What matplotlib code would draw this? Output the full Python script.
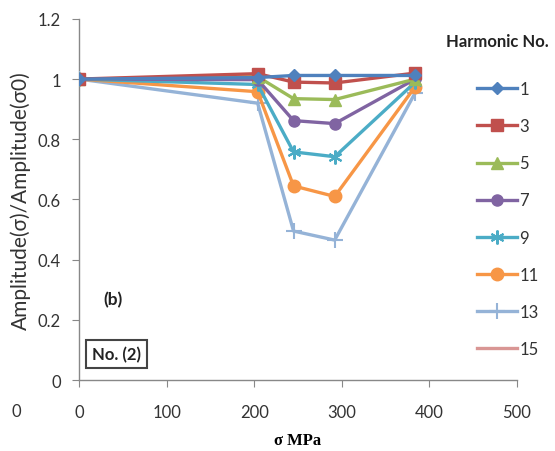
import matplotlib
matplotlib.use("Agg")
import matplotlib.pyplot as plt

stress = [0, 204, 245, 292, 384]
harmonics = ["1", "3", "5", "7", "9", "11", "13", "15"]
h1 = [1.0, 1.005, 1.012, 1.012, 1.012]
h3 = [1.0, 1.018, 0.99, 0.987, 1.02]
h5 = [1.0, 1.008, 0.935, 0.932, 1.0]
h7 = [1.0, 0.998, 0.862, 0.852, 1.0]
h9 = [1.0, 0.982, 0.758, 0.742, 0.99]
h11 = [1.0, 0.958, 0.645, 0.61, 0.975]
h13 = [1.0, 0.92, 0.495, 0.465, 0.955]
h15 = [1.0]
series = [h1, h3, h5, h7, h9, h11, h13, h15]

colors = ["#4F81BD", "#C0504D", "#9BBB59", "#8064A2", "#4BACC6", "#F79646", "#95B3D7", "#D99694"]
markers = ["D", "s", "^", "o", (6, 2, 0), "o", "+", None]
msizes = [6, 8, 8, 8, 10, 9, 12, 0]

plt.rcParams['font.family'] = ['Lato', 'DejaVu Sans']

fig = plt.figure(figsize=(5.55, 4.52), dpi=100)
ax = fig.add_axes([0.1423, 0.157, 0.789, 0.799])

order = [7, 6, 5, 4, 3, 2, 1, 0]
handles = [None] * len(series)
for i in order:
    ys = series[i]
    xs = stress[:len(ys)]
    ln, = ax.plot(xs, ys, color=colors[i], lw=2.4, marker=markers[i], ms=msizes[i],
                  mew=1.5 if markers[i] in ["+", (6, 2, 0)] else 1, label=harmonics[i],
                  zorder=3 + (7 - i) * 0.1)
    handles[i] = ln

ax.set_xlim(0, 500)
ax.set_ylim(0, 1.2)
ax.set_xticks([0, 100, 200, 300, 400, 500])
ax.set_yticks([0, 0.2, 0.4, 0.6, 0.8, 1.0, 1.2])
ax.set_yticklabels(["0", "0.2", "0.4", "0.6", "0.8", "1", "1.2"])
for s in ["top", "right"]:
    ax.spines[s].set_visible(False)
for s in ["left", "bottom"]:
    ax.spines[s].set_color("#888888")
    ax.spines[s].set_linewidth(1)
ax.tick_params(axis="x", direction="out", length=5, color="#888888", pad=12, labelsize=12, labelcolor="#333333")
ax.tick_params(axis="y", direction="out", length=5, color="#888888", pad=8, labelsize=12, labelcolor="#333333")

ax.set_xlabel("σ MPa", fontsize=12, fontweight="bold", family=["Liberation Serif", "DejaVu Serif"], labelpad=9)
ax.set_ylabel("Amplitude(σ)/Amplitude(σ0)", fontsize=15, color="#333333", labelpad=5)

ax.text(39, 0.27, "(b)", fontsize=12.5, fontweight="bold", ha="center", va="center", color="#222222")
ax.text(43, 0.085, "No. (2)", fontsize=12, fontweight="bold", ha="center", va="center", color="#222222",
        bbox=dict(boxstyle="square,pad=0.35", fc="white", ec="#444444", lw=1.5))
fig.text(12 / 555, 1 - 412 / 452, "0", fontsize=12, color="#333333", ha="left", va="center")

fig.text(497 / 555, 1 - 42 / 452, "Harmonic No.", fontsize=12, fontweight="bold", ha="center", va="center",
         color="#222222")
leg = ax.legend(handles=handles, labels=harmonics, frameon=False,
                loc="upper left", bbox_to_anchor=(477 / 555, 1 - 82 / 452), bbox_transform=fig.transFigure,
                fontsize=12, handlelength=2.4, handletextpad=0.15, labelspacing=1.27,
                borderpad=0, borderaxespad=0)
for t in leg.get_texts():
    t.set_color("#333333")

fig.savefig("out.png", dpi=100)
